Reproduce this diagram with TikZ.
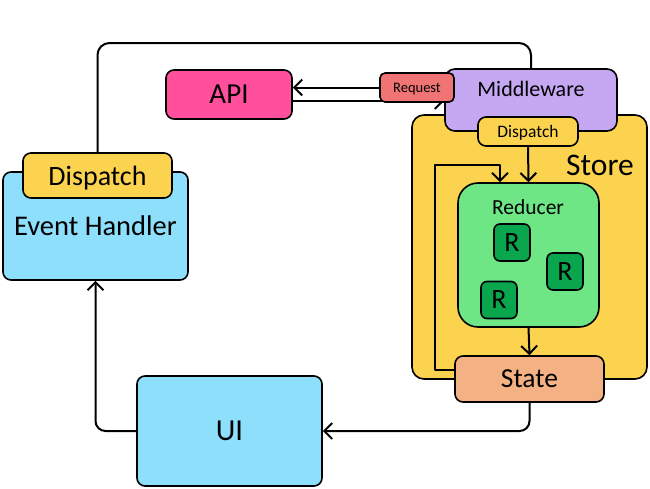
\documentclass[tikz,border=0pt]{standalone}
\usepackage{fontspec}
\setmainfont{Carlito}
\usetikzlibrary{arrows.meta}
\definecolor{evblue}{HTML}{8EDFFB}
\definecolor{dispyel}{HTML}{FCD34F}
\definecolor{apipink}{HTML}{FF4F9D}
\definecolor{reqred}{HTML}{F07474}
\definecolor{mwpurple}{HTML}{C6A8F2}
\definecolor{redgreen}{HTML}{6EE685}
\definecolor{rgreen}{HTML}{0AA64E}
\definecolor{statesal}{HTML}{F4B183}
\begin{document}
\begin{tikzpicture}[x=1pt,y=-1pt,line cap=round,line join=round,
  box/.style={draw,line width=1.6pt,rounded corners=8pt,inner sep=0pt,text depth=0pt},
  lnk/.style={line width=2pt},
  arr/.style={lnk,-{Straight Barb[length=8pt,width=16pt]}},
  txt/.style={inner sep=0pt,text depth=0pt}]
  \useasboundingbox (0,0) rectangle (650,488);

  % Store mit Middleware
  \node[box,fill=dispyel,rounded corners=12pt,minimum width=235,minimum height=264] (store) at (529.5,247) {};
  \node[txt,font=\fontsize{31.5}{38}\selectfont] (storetxt) at (600,165) {Store};
  \node[box,fill=mwpurple,rounded corners=10pt,minimum width=172,minimum height=62] (mw) at (531,100) {};
  \node[txt,font=\fontsize{22}{26}\selectfont] (mwtxt) at (531,89) {Middleware};
  \node[box,fill=dispyel,minimum width=100,minimum height=29,font=\fontsize{17.5}{21}\selectfont] (sdisp) at (528,131.5) {Dispatch};

  % Reducer
  \node[box,fill=redgreen,rounded corners=20pt,minimum width=141,minimum height=144] (red) at (528.5,255) {};
  \node[txt,font=\fontsize{21.5}{26}\selectfont] (redtxt) at (528,207) {Reducer};
  \foreach \n/\px/\py in {ra/512/242.5, rb/565/271.5, rc/499/300}
    \node[box,fill=rgreen,rounded corners=6pt,minimum width=36,minimum height=37,font=\fontsize{28}{32}\selectfont] (\n) at (\px,\py) {R};
  \node[box,fill=statesal,minimum width=149,minimum height=46,font=\fontsize{27.5}{32}\selectfont] (state) at (529.5,379) {State};

  % linke Seite
  \node[box,fill=evblue,minimum width=185,minimum height=108,font=\fontsize{28.5}{34}\selectfont] (evh) at (95.5,226) {Event Handler};
  \node[box,fill=dispyel,minimum width=149,minimum height=45,font=\fontsize{28}{34}\selectfont] (edisp) at (97.5,175.5) {Dispatch};
  \node[box,fill=apipink,minimum width=126,minimum height=49,font=\fontsize{29}{34}\selectfont] (api) at (229,94.5) {API};
  \node[box,fill=evblue,minimum width=185,minimum height=110,font=\fontsize{30.5}{36}\selectfont] (ui) at (229.5,431) {UI};

  % Verbindungen
  \coordinate (topR) at (531,43);
  \draw[lnk,rounded corners=12pt] (edisp.north) |- (topR) -- (mw.north);
  \draw[arr] (sdisp.south) -- (red.north);
  \draw[arr] (red.south) -- (state.north);
  \coordinate (lpA) at (435,370);
  \coordinate (lpB) at (435,165);
  \coordinate (lpC) at (500,165);
  \draw[arr] (state.west |- lpA) -- (lpA) -- (lpB) -- (lpC) -- (lpC |- red.north);
  \draw[arr,rounded corners=10pt] (state.south) |- (ui.east);
  \draw[arr,rounded corners=10pt] (ui.west) -| (evh.south);
  \coordinate (lowY) at (0,101);
  \draw[arr] (api.east |- lowY) -- (mw.west |- lowY);

  % Request oben drauf
  \node[box,fill=reqred,rounded corners=5pt,minimum width=74,minimum height=29,font=\fontsize{14.5}{17}\selectfont] (req) at (417,87.5) {Request};
  \draw[arr] (req.west) -- (req.west -| api.east);
\end{tikzpicture}
\end{document}
